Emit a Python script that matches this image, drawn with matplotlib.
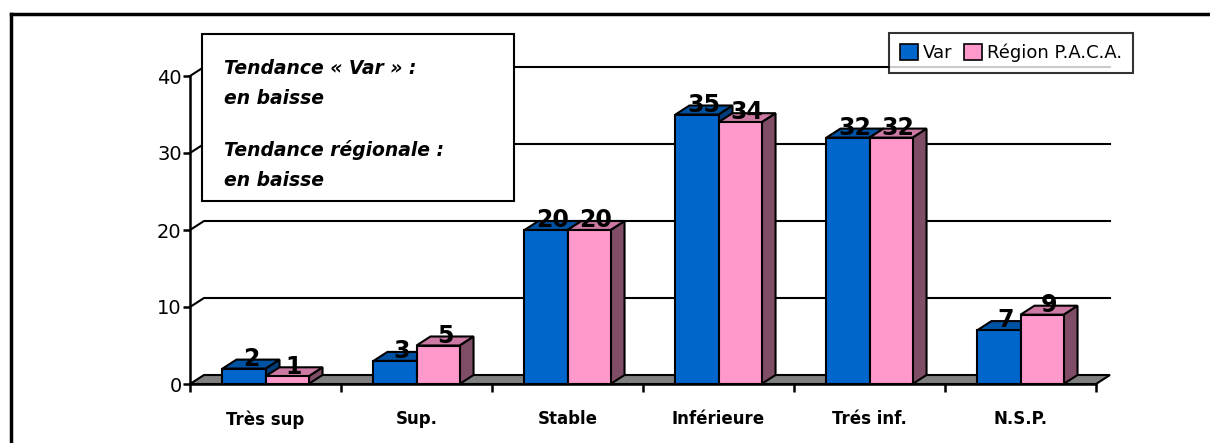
import matplotlib
matplotlib.use("Agg")
import matplotlib.pyplot as plt
from matplotlib.patches import Polygon, Rectangle, Patch
from matplotlib.lines import Line2D

# data
categories = ["Très sup", "Sup.", "Stable", "Inférieure", "Trés inf.", "N.S.P."]
var_values = [2, 3, 20, 35, 32, 7]
paca_values = [1, 5, 20, 34, 32, 9]
yticks = [0, 10, 20, 30, 40]
note_lines = ["Tendance « Var » :", "en baisse", "Tendance régionale :", "en baisse"]

W, H = 1210, 443
BLUE = ("#0066CC", "#0052A3", "#003D7A")   # front, top, side
PINK = ("#FF99CC", "#CC7AA3", "#804D66")


def fx(x):
    return x / W


def fy(y):
    return 1 - y / H


fig = plt.figure(figsize=(W / 100, H / 100), dpi=100)
# plot area in pixels: x 190..1096, y 76..384
ax = fig.add_axes([fx(190), fy(384), 906 / W, 308 / H])
n = len(categories)
ax.set_xlim(-0.5, n - 0.5)
ax.set_ylim(0, 40)

# depth offset of the fake 3d, converted from pixels to data units
ddx = 14 * n / 906
ddy = 9 * 40 / 308
bw = 0.285

for s in ["top", "right"]:
    ax.spines[s].set_visible(False)
for s in ["left", "bottom"]:
    ax.spines[s].set_linewidth(1.8)
    ax.spines[s].set_zorder(2)

ax.set_yticks(yticks)
ax.set_yticklabels([str(t) for t in yticks], fontsize=14)
ax.tick_params(axis="y", length=5, width=1.8, pad=1)
ax.set_xticks(range(n))
ax.set_xticklabels(categories, fontsize=12, fontweight="bold")
ax.tick_params(axis="x", which="major", length=0, pad=19)
ax.set_xticks([i - 0.5 for i in range(n + 1)], minor=True)
ax.tick_params(axis="x", which="minor", length=6, width=1.8)

# floor
floor = Polygon([(-0.5, 0), (n - 0.5, 0), (n - 0.5 + ddx, ddy), (-0.5 + ddx, ddy)],
                closed=True, facecolor="#808080", edgecolor="black", lw=1.5,
                zorder=1, clip_on=False)
ax.add_patch(floor)

# back gridlines with connectors to the front axis
for g in yticks[1:]:
    ax.plot([-0.5, -0.5 + ddx, n - 0.5 + ddx], [g, g + ddy, g + ddy],
            color="black", lw=1.5, zorder=0.5, clip_on=False)


def draw_bar(x0, v, cols):
    x1 = x0 + bw
    ax.add_patch(Polygon([(x1, 0), (x1 + ddx, ddy), (x1 + ddx, v + ddy), (x1, v)],
                         facecolor=cols[2], edgecolor="black", lw=1.5, zorder=3, clip_on=False))
    ax.add_patch(Polygon([(x0, v), (x1, v), (x1 + ddx, v + ddy), (x0 + ddx, v + ddy)],
                         facecolor=cols[1], edgecolor="black", lw=1.5, zorder=3, clip_on=False))
    ax.add_patch(Rectangle((x0, 0), bw, v, facecolor=cols[0], edgecolor="black",
                           lw=1.5, zorder=3, clip_on=False))
    ax.annotate(str(v), (x0 + bw / 2 + ddx / 2, v), xytext=(0, 2), textcoords="offset points",
                ha="center", va="baseline", fontsize=17, fontweight="bold", zorder=6)


for i in range(n):
    draw_bar(i - bw, var_values[i], BLUE)
for i in range(n):
    draw_bar(i, paca_values[i], PINK)

# note box
fig.add_artist(Rectangle((fx(202), fy(201)), (514 - 202) / W, (201 - 34) / H,
                         transform=fig.transFigure, facecolor="white",
                         edgecolor="black", lw=1.5, zorder=5))
for txt, yy in zip(note_lines, [68, 98, 150, 180]):
    fig.text(fx(224), fy(yy), txt, fontsize=13.5, fontweight="bold", fontstyle="italic",
             va="center", ha="left", zorder=6)

# legend
handles = [Patch(facecolor=BLUE[0], edgecolor="black", lw=1.2, label="Var"),
           Patch(facecolor=PINK[0], edgecolor="black", lw=1.2, label="Région P.A.C.A.")]
leg = fig.legend(handles=handles, loc="upper right", bbox_to_anchor=(fx(1133), fy(33)),
                 ncol=2, fontsize=13, frameon=True, fancybox=False, shadow=False,
                 handlelength=1.0, handleheight=1.0, handletextpad=0.3,
                 columnspacing=0.6, borderpad=0.6, borderaxespad=0)
leg.get_frame().set_edgecolor("black")
leg.get_frame().set_linewidth(1.5)
leg.set_zorder(6)

# outer frame (only top and left visible in the crop)
fig.add_artist(Line2D([fx(11), 1], [fy(14), fy(14)], transform=fig.transFigure,
                      color="black", lw=2.5))
fig.add_artist(Line2D([fx(11), fx(11)], [fy(14), 0], transform=fig.transFigure,
                      color="black", lw=2.5))

fig.savefig("out.png", dpi=100)
